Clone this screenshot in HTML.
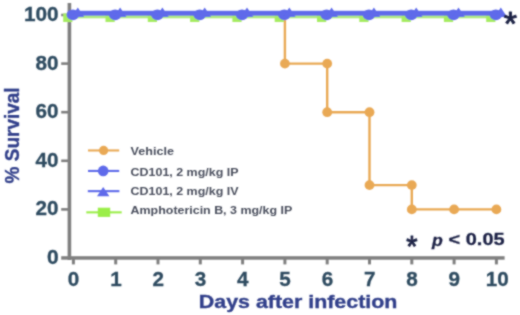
<!DOCTYPE html>
<html><head><meta charset="utf-8"><style>
html,body{margin:0;padding:0;background:#fff;}
body{width:520px;height:315px;overflow:hidden;position:relative;}
svg{position:absolute;left:0;top:0;display:block;}
svg text{font-family:"Liberation Sans",Arial,sans-serif;font-weight:bold;}
</style></head><body>
<svg width="520" height="315" viewBox="0 0 520 315">
<defs><filter id="bl" x="0" y="0" width="520" height="315" filterUnits="userSpaceOnUse"><feConvolveMatrix order="3" kernelMatrix="1 2 1 2 8 2 1 2 1" divisor="20" edgeMode="none"/></filter></defs>
<rect x="0" y="0" width="520" height="315" fill="#fff"/>
<g filter="url(#bl)">
<g fill="#808080">
<rect x="67.6" y="3" width="3.6" height="257"/>
<rect x="61.2" y="256.2" width="443.4" height="3.5"/>
<rect x="61.2" y="13.7" width="7" height="2.6"/>
<rect x="61.2" y="62.3" width="7" height="2.6"/>
<rect x="61.2" y="110.9" width="7" height="2.6"/>
<rect x="61.2" y="159.5" width="7" height="2.6"/>
<rect x="61.2" y="208.1" width="7" height="2.6"/>
<rect x="71.9" y="258" width="3" height="6.4"/>
<rect x="114.2" y="258" width="3" height="6.4"/>
<rect x="156.5" y="258" width="3" height="6.4"/>
<rect x="198.8" y="258" width="3" height="6.4"/>
<rect x="241.1" y="258" width="3" height="6.4"/>
<rect x="283.4" y="258" width="3" height="6.4"/>
<rect x="325.7" y="258" width="3" height="6.4"/>
<rect x="368.0" y="258" width="3" height="6.4"/>
<rect x="410.3" y="258" width="3" height="6.4"/>
<rect x="452.6" y="258" width="3" height="6.4"/>
<rect x="494.9" y="258" width="3" height="6.4"/>
</g>
<g fill="#2f4c61" stroke="#2f4c61" stroke-width="0.3" font-size="19.5" text-anchor="end">
<text x="58.6" y="20.9" textLength="34.7" lengthAdjust="spacingAndGlyphs">100</text>
<text x="58.6" y="69.5" textLength="23.0" lengthAdjust="spacingAndGlyphs">80</text>
<text x="58.6" y="118.1" textLength="23.0" lengthAdjust="spacingAndGlyphs">60</text>
<text x="58.6" y="166.7" textLength="23.0" lengthAdjust="spacingAndGlyphs">40</text>
<text x="58.6" y="215.3" textLength="23.0" lengthAdjust="spacingAndGlyphs">20</text>
<text x="58.6" y="263.9" textLength="11.7" lengthAdjust="spacingAndGlyphs">0</text>
</g>
<g fill="#2f4c61" stroke="#2f4c61" stroke-width="0.3" font-size="19.5" text-anchor="middle">
<text x="73.6" y="285.7" textLength="11.5" lengthAdjust="spacingAndGlyphs">0</text>
<text x="115.9" y="285.7" textLength="11.5" lengthAdjust="spacingAndGlyphs">1</text>
<text x="158.2" y="285.7" textLength="11.5" lengthAdjust="spacingAndGlyphs">2</text>
<text x="200.5" y="285.7" textLength="11.5" lengthAdjust="spacingAndGlyphs">3</text>
<text x="242.8" y="285.7" textLength="11.5" lengthAdjust="spacingAndGlyphs">4</text>
<text x="285.1" y="285.7" textLength="11.5" lengthAdjust="spacingAndGlyphs">5</text>
<text x="327.4" y="285.7" textLength="11.5" lengthAdjust="spacingAndGlyphs">6</text>
<text x="369.7" y="285.7" textLength="11.5" lengthAdjust="spacingAndGlyphs">7</text>
<text x="412.0" y="285.7" textLength="11.5" lengthAdjust="spacingAndGlyphs">8</text>
<text x="454.3" y="285.7" textLength="11.5" lengthAdjust="spacingAndGlyphs">9</text>
<text x="497.3" y="285.7" textLength="23.0" lengthAdjust="spacingAndGlyphs">10</text>
</g>
<text fill="#33418b" stroke="#33418b" stroke-width="0.35" font-size="19.5" text-anchor="middle" textLength="96" lengthAdjust="spacingAndGlyphs" transform="translate(19,135.4) rotate(-90)">% Survival</text>
<text x="198.8" y="307.6" fill="#33418b" stroke="#33418b" stroke-width="0.35" font-size="18" textLength="198.6" lengthAdjust="spacingAndGlyphs">Days after infection</text>
<polyline fill="none" stroke="#e9a955" stroke-width="2.4" points="284.9,15.0 284.9,63.6 327.2,63.6 327.2,112.2 369.5,112.2 369.5,185.1 411.8,185.1 411.8,209.4 496.4,209.4"/>
<g fill="#e9a955"><circle cx="284.9" cy="63.6" r="4.9"/><circle cx="327.2" cy="63.6" r="4.9"/><circle cx="327.2" cy="112.2" r="4.9"/><circle cx="369.5" cy="112.2" r="4.9"/><circle cx="369.5" cy="185.1" r="4.9"/><circle cx="411.8" cy="185.1" r="4.9"/><circle cx="411.8" cy="209.4" r="4.9"/><circle cx="454.1" cy="209.4" r="4.9"/><circle cx="496.4" cy="209.4" r="4.9"/></g>
<g fill="#9bee4a">
<rect x="64" y="15.3" width="433" height="3" fill="#aeea7e"/>
<rect x="63.2" y="13.4" width="9.2" height="8.6" fill="#a6ec62"/>
<rect x="105.5" y="13.4" width="9.2" height="8.6" fill="#a6ec62"/>
<rect x="147.8" y="13.4" width="9.2" height="8.6" fill="#a6ec62"/>
<rect x="190.1" y="13.4" width="9.2" height="8.6" fill="#a6ec62"/>
<rect x="232.4" y="13.4" width="9.2" height="8.6" fill="#a6ec62"/>
<rect x="274.7" y="13.4" width="9.2" height="8.6" fill="#a6ec62"/>
<rect x="317.0" y="13.4" width="9.2" height="8.6" fill="#a6ec62"/>
<rect x="359.3" y="13.4" width="9.2" height="8.6" fill="#a6ec62"/>
<rect x="401.6" y="13.4" width="9.2" height="8.6" fill="#a6ec62"/>
<rect x="443.9" y="13.4" width="9.2" height="8.6" fill="#a6ec62"/>
<rect x="486.2" y="13.4" width="9.2" height="8.6" fill="#a6ec62"/>
</g>
<g fill="#5e6aea">
<rect x="69" y="10.8" width="431" height="4.9"/>
<ellipse cx="72.8" cy="14.8" rx="6.3" ry="5.4"/>
<ellipse cx="115.1" cy="14.8" rx="6.3" ry="5.4"/>
<ellipse cx="157.4" cy="14.8" rx="6.3" ry="5.4"/>
<ellipse cx="199.7" cy="14.8" rx="6.3" ry="5.4"/>
<ellipse cx="242.0" cy="14.8" rx="6.3" ry="5.4"/>
<ellipse cx="284.3" cy="14.8" rx="6.3" ry="5.4"/>
<ellipse cx="326.6" cy="14.8" rx="6.3" ry="5.4"/>
<ellipse cx="368.9" cy="14.8" rx="6.3" ry="5.4"/>
<ellipse cx="411.2" cy="14.8" rx="6.3" ry="5.4"/>
<ellipse cx="453.5" cy="14.8" rx="6.3" ry="5.4"/>
<ellipse cx="495.8" cy="14.8" rx="6.3" ry="5.4"/>
<polygon points="77.8,7.4 84.1,17 71.5,17"/>
<polygon points="120.1,7.4 126.4,17 113.8,17"/>
<polygon points="162.4,7.4 168.7,17 156.1,17"/>
<polygon points="204.7,7.4 211.0,17 198.4,17"/>
<polygon points="247.0,7.4 253.3,17 240.7,17"/>
<polygon points="289.3,7.4 295.6,17 283.0,17"/>
<polygon points="331.6,7.4 337.9,17 325.3,17"/>
<polygon points="373.9,7.4 380.2,17 367.6,17"/>
<polygon points="416.2,7.4 422.5,17 409.9,17"/>
<polygon points="458.5,7.4 464.8,17 452.2,17"/>
<polygon points="500.8,7.4 507.1,17 494.5,17"/>
</g>
<text x="510.4" y="34.9" fill="#1c2246" stroke="#1c2246" stroke-width="1.0" stroke-linejoin="round" font-size="34" style="font-weight:normal" text-anchor="middle">*</text>
<rect x="88" y="149.4" width="31.2" height="2.1" fill="#e9a955"/>
<circle cx="103.6" cy="150.4" r="4.6" fill="#e9a955"/>
<rect x="88" y="169.9" width="31.2" height="2.1" fill="#5e6aea"/>
<circle cx="103.2" cy="170.9" r="5.3" fill="#5e6aea"/>
<rect x="87.8" y="190.1" width="31.6" height="2.1" fill="#5e6aea"/>
<polygon points="103.2,186.9 109.4,196.2 97,196.2" fill="#5e6aea"/>
<rect x="86.3" y="211.3" width="35.4" height="2.1" fill="#9bee4a"/>
<rect x="97.8" y="207.7" width="12.4" height="9.2" fill="#9bee4a"/>
<g fill="#4b505e" font-size="11.7">
<text x="130.6" y="155.2" textLength="43.4" lengthAdjust="spacingAndGlyphs">Vehicle</text>
<text x="130.6" y="175.5" textLength="107.9" lengthAdjust="spacingAndGlyphs">CD101, 2 mg/kg IP</text>
<text x="130.6" y="194.6" textLength="107.9" lengthAdjust="spacingAndGlyphs">CD101, 2 mg/kg IV</text>
<text x="130.6" y="213.6" textLength="161.6" lengthAdjust="spacingAndGlyphs">Amphotericin B, 3 mg/kg IP</text>
</g>
<text x="411.9" y="256.2" fill="#1c2246" stroke="#1c2246" stroke-width="0.9" stroke-linejoin="round" font-size="29" style="font-weight:normal" text-anchor="middle">*</text>
<text x="431.9" y="245.8" fill="#1c2246" stroke="#1c2246" stroke-width="0.3" font-size="16.7" font-style="italic" textLength="10.8" lengthAdjust="spacingAndGlyphs">p</text>
<text x="448.6" y="245.2" fill="#1c2246" stroke="#1c2246" stroke-width="0.3" font-size="16.7" textLength="56" lengthAdjust="spacingAndGlyphs">&lt; 0.05</text>
</g></svg>
</body></html>
